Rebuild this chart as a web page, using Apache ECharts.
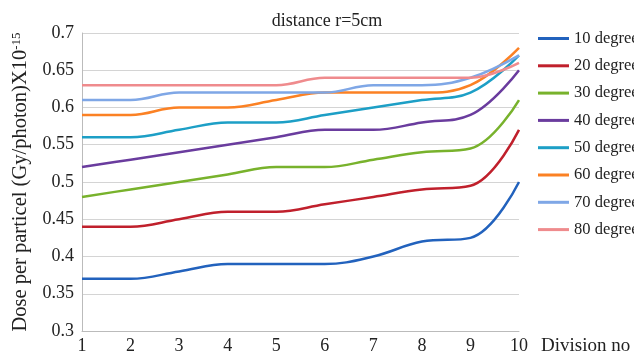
<!DOCTYPE html>
<html><head><meta charset="utf-8">
<script src="https://cdn.jsdelivr.net/npm/echarts@6/dist/echarts.min.js"></script>
<style>html,body{margin:0;padding:0;background:#fff}#c{width:634px;height:356px}</style>
</head><body><div id="c"></div>
<script>
const categories = ['1','2','3','4','5','6','7','8','9','10'];
const seriesNames = ['10 degree','20 degree','30 degree','40 degree','50 degree','60 degree','70 degree','80 degree'];
const deg10 = [0.37,0.37,0.38,0.39,0.39,0.39,0.40,0.42,0.425,0.50];
const deg20 = [0.44,0.44,0.45,0.46,0.46,0.47,0.48,0.49,0.495,0.57];
const deg30 = [0.48,0.49,0.50,0.51,0.52,0.52,0.53,0.54,0.545,0.61];
const deg40 = [0.52,0.53,0.54,0.55,0.56,0.57,0.57,0.58,0.59,0.65];
const deg50 = [0.56,0.56,0.57,0.58,0.58,0.59,0.60,0.61,0.62,0.67];
const deg60 = [0.59,0.59,0.60,0.60,0.61,0.62,0.62,0.62,0.63,0.68];
const deg70 = [0.61,0.61,0.62,0.62,0.62,0.62,0.63,0.63,0.64,0.67];
const deg80 = [0.63,0.63,0.63,0.63,0.63,0.64,0.64,0.64,0.64,0.66];
const colors = ['#2262bd','#c0202c','#78b22c','#6a3c9e','#1d9fc6','#fb8124','#7fa7e6','#ef8b8d'];
const allData = [deg10,deg20,deg30,deg40,deg50,deg60,deg70,deg80];
const serif = '"Liberation Serif","DejaVu Serif",serif';

const chart = echarts.init(document.getElementById('c'));
chart.setOption({
  animation:false,
  color: colors,
  title:{text:'distance r=5cm',left:322,textAlign:'center',top:7,
    textStyle:{fontFamily:serif,fontSize:18,fontWeight:'normal',color:'#222'}},
  legend:{orient:'vertical',left:533,top:25,itemWidth:31,itemHeight:3,itemGap:10.3,
    icon:'rect',
    textStyle:{fontFamily:serif,fontSize:16.5,color:'#222'},
    data:seriesNames},
  grid:{left:82,right:115,top:33,bottom:25,containLabel:false},
  xAxis:{type:'category',data:categories,boundaryGap:false,
    name:'Division no',nameLocation:'end',nameGap:22,
    nameTextStyle:{fontFamily:serif,fontSize:19,color:'#222',verticalAlign:'top',padding:[6,0,0,0]},
    axisLine:{lineStyle:{color:'#bbb'}},axisTick:{show:false},
    axisLabel:{fontFamily:serif,fontSize:18,color:'#222',margin:6},
    splitLine:{show:false}},
  yAxis:{type:'value',min:0.3,max:0.7,interval:0.05,
    name:'{a|Dose per particel (Gy/photon)X10}{b|-15}',nameLocation:'middle',nameRotate:90,nameGap:50,
    nameTextStyle:{rich:{
      a:{fontFamily:serif,fontSize:20.5,color:'#222',lineHeight:22},
      b:{fontFamily:serif,fontSize:13,color:'#222',verticalAlign:'top',lineHeight:22,padding:[0,0,9,0]}}},
    axisLine:{show:true,lineStyle:{color:'#bbb'}},axisTick:{show:false},
    axisLabel:{fontFamily:serif,fontSize:18,color:'#222',margin:8},
    splitLine:{lineStyle:{color:'#d4d4d4',width:1}}},
  series: allData.map((d,i)=>({name:seriesNames[i],type:'line',data:d,smooth:0.4,showSymbol:false,
    lineStyle:{width:2.5,color:colors[i]},itemStyle:{color:colors[i]}}))
});
</script></body></html>
